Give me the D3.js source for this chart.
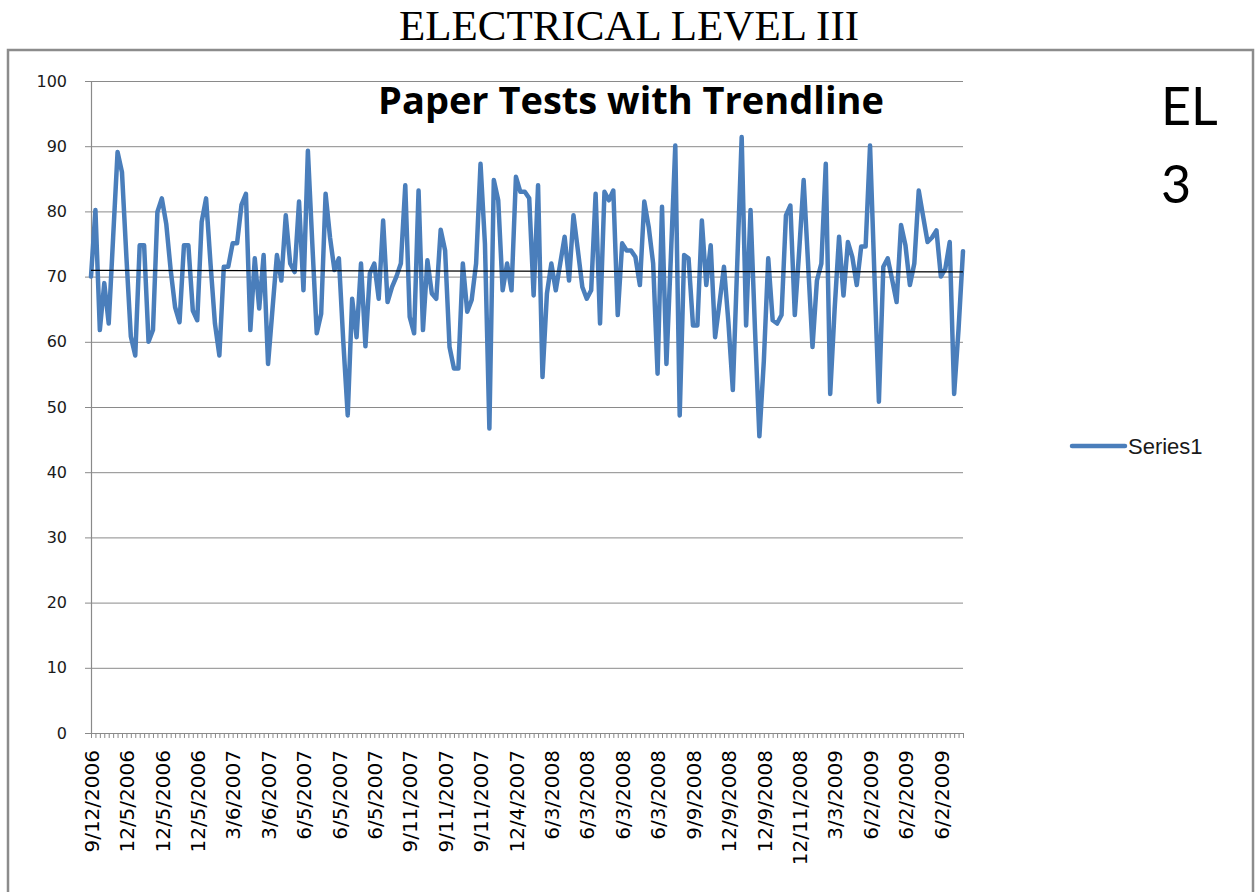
<!DOCTYPE html>
<html>
<head>
<meta charset="utf-8">
<script src="https://cdn.jsdelivr.net/npm/d3@7/dist/d3.min.js"></script>
<style>
  html, body { margin: 0; padding: 0; background: #fff; }
  svg { display: block; }
</style>
</head>
<body>
<svg id="chart" width="1255" height="892"></svg>
<script>
// ---------- data ----------
const pageTitle = "ELECTRICAL LEVEL III";
const chartTitle = "Paper Tests with Trendline";
const sideLabel = ["EL", "3"];
const seriesName = "Series1";
const yTicks = [0, 10, 20, 30, 40, 50, 60, 70, 80, 90, 100];
const labelEvery = 8;
const tickLabels = [
  "9/12/2006", "12/5/2006", "12/5/2006", "12/5/2006", "3/6/2007", "3/6/2007",
  "6/5/2007", "6/5/2007", "6/5/2007", "9/11/2007", "9/11/2007", "9/11/2007",
  "12/4/2007", "6/3/2008", "6/3/2008", "6/3/2008", "6/3/2008", "9/9/2008",
  "12/9/2008", "12/9/2008", "12/11/2008", "3/3/2009", "6/2/2009", "6/2/2009", "6/2/2009"
];
const scores = [
  70.0, 80.2, 61.8, 69, 62.8, 76, 89.1, 86, 73, 60.8, 57.9, 74.8, 74.8, 60, 61.8, 79.9,
  82, 78.1, 71, 65.3, 63, 74.8, 74.8, 64.8, 63.3, 78.4, 82, 72, 62.8, 57.9, 71.5, 71.5,
  75.1, 75.1, 81, 82.7, 61.8, 72.8, 65.1, 73.3, 56.6, 65, 73.3, 69.4, 79.4, 72, 70.7, 81.5,
  67.9, 89.3, 75, 61.3, 64.3, 82.7, 76, 71, 72.8, 60, 48.7, 66.6, 60.7, 72, 59.3, 70.5,
  72, 66.6, 78.6, 66.1, 68.4, 70, 72, 84, 63.8, 61.3, 83.2, 61.8, 72.5, 67.4, 66.6, 77.2,
  74, 59.2, 55.9, 55.9, 72, 64.6, 66.4, 72, 87.3, 75, 46.7, 84.8, 81.7, 67.9, 72, 67.9,
  85.3, 83, 83, 82, 67.1, 84, 54.6, 67.4, 72, 67.9, 72, 76.1, 69.4, 79.4, 74, 68.4,
  66.6, 67.9, 82.7, 62.8, 83, 81.7, 83.2, 64.1, 75.1, 74, 74, 73, 68.7, 81.5, 77.6, 72,
  55.1, 80.7, 56.6, 73, 90.1, 48.7, 73.3, 72.8, 62.5, 62.5, 78.6, 68.7, 74.8, 60.7, 66, 71.5,
  63, 52.6, 72, 91.4, 62.5, 80.2, 62, 45.5, 57, 72.8, 63.3, 62.8, 64.1, 79.4, 80.9, 64.1,
  74, 84.8, 72, 59.2, 69.4, 72, 87.3, 52, 65, 76.1, 67.1, 75.3, 73, 68.7, 74.6, 74.6,
  90.1, 70, 50.8, 71.5, 72.8, 69.5, 66.1, 77.9, 74.8, 68.7, 72, 83.2, 79.2, 75.3, 76, 77.1,
  70, 71.2, 75.3, 52, 62, 73.9
];

// ---------- layout ----------
const svg = d3.select("#chart");
const n = scores.length;
const idx = d3.range(n);
const plot = { left: 91, right: 963, top: 81, bottom: 733 };

const x = d3.scaleLinear().domain([0, n - 1]).range([plot.left, plot.right]);
const y = d3.scaleLinear().domain([0, 100]).range([plot.bottom, plot.top]);

svg.append("rect").attr("width", 1255).attr("height", 892).attr("fill", "#fff");

// page title
svg.append("text")
  .attr("x", 629).attr("y", 40)
  .attr("text-anchor", "middle")
  .attr("font-family", "'Liberation Serif', 'Times New Roman', serif")
  .attr("font-size", 43)
  .attr("fill", "#000")
  .text(pageTitle);

// chart frame
svg.append("rect")
  .attr("x", 8).attr("y", 50).attr("width", 1245).attr("height", 860)
  .attr("fill", "none").attr("stroke", "#8c8c8c").attr("stroke-width", 2.5);

// gridlines
svg.append("g")
  .attr("transform", `translate(${plot.left},0)`)
  .call(d3.axisLeft(y).tickValues(yTicks).tickSize(-(plot.right - plot.left)).tickFormat(""))
  .call(g => g.select(".domain").remove())
  .call(g => g.selectAll("line").attr("stroke", "#8a8a8a").attr("stroke-width", 1));

// y axis
svg.append("g")
  .attr("transform", `translate(${plot.left},0)`)
  .call(d3.axisLeft(y).tickValues(yTicks).tickSize(6).tickPadding(18))
  .call(g => g.select(".domain").attr("stroke", "#8a8a8a").attr("stroke-width", 1.2))
  .call(g => g.selectAll("line").attr("stroke", "#8a8a8a"))
  .call(g => g.selectAll("text")
    .attr("font-family", "'DejaVu Sans', sans-serif")
    .attr("font-size", 16).attr("fill", "#1a1a1a"));

// x axis
svg.append("g")
  .attr("transform", `translate(0,${plot.bottom})`)
  .call(d3.axisBottom(x).tickValues(idx).tickSize(5).tickSizeOuter(0)
    .tickFormat(i => (i % labelEvery === 0 && tickLabels[i / labelEvery]) ? tickLabels[i / labelEvery] : ""))
  .call(g => g.select(".domain").attr("stroke", "#8a8a8a").attr("stroke-width", 1.2))
  .call(g => g.selectAll("line").attr("stroke", "#8a8a8a"))
  .call(g => g.selectAll("text")
    .attr("font-family", "'DejaVu Sans', sans-serif")
    .attr("font-size", 20).attr("fill", "#000")
    .attr("transform", "rotate(-90)")
    .attr("text-anchor", "end")
    .attr("x", -17).attr("y", 0).attr("dy", "0.36em"));

// series line
const line = d3.line().x((d, i) => x(i)).y(d => y(d)).curve(d3.curveLinear);
svg.append("path")
  .datum(scores)
  .attr("d", line)
  .attr("fill", "none")
  .attr("stroke", "#4a7ebb")
  .attr("stroke-width", 4.5)
  .attr("stroke-linejoin", "round")
  .attr("stroke-linecap", "round");

// linear trendline (least squares)
const mx = d3.mean(idx), my = d3.mean(scores);
const slope = d3.sum(idx, i => (i - mx) * (scores[i] - my)) / d3.sum(idx, i => (i - mx) * (i - mx));
const icpt = my - slope * mx;
svg.append("line")
  .attr("x1", x(0)).attr("y1", y(icpt))
  .attr("x2", x(n - 1)).attr("y2", y(icpt + slope * (n - 1)))
  .attr("stroke", "#000").attr("stroke-width", 1.3);

// chart title
svg.append("text")
  .attr("x", 631).attr("y", 114)
  .attr("text-anchor", "middle")
  .attr("font-family", "'Open Sans', 'Liberation Sans', sans-serif")
  .attr("font-weight", "bold")
  .attr("font-size", 38)
  .attr("fill", "#000")
  .text(chartTitle);

// side label
svg.append("text")
  .attr("x", 1161).attr("y", 125)
  .attr("font-family", "Lato, 'Liberation Sans', sans-serif")
  .attr("font-size", 52).attr("fill", "#000")
  .text(sideLabel[0]);
svg.append("text")
  .attr("x", 1161).attr("y", 203)
  .attr("font-family", "Lato, 'Liberation Sans', sans-serif")
  .attr("font-size", 52).attr("fill", "#000")
  .text(sideLabel[1]);

// legend
svg.append("line")
  .attr("x1", 1072).attr("x2", 1125).attr("y1", 446).attr("y2", 446)
  .attr("stroke", "#4a7ebb").attr("stroke-width", 4.5).attr("stroke-linecap", "round");
svg.append("text")
  .attr("x", 1128).attr("y", 454)
  .attr("font-family", "'Liberation Sans', sans-serif")
  .attr("font-size", 22).attr("fill", "#1a1a1a")
  .text(seriesName);
</script>
</body>
</html>
